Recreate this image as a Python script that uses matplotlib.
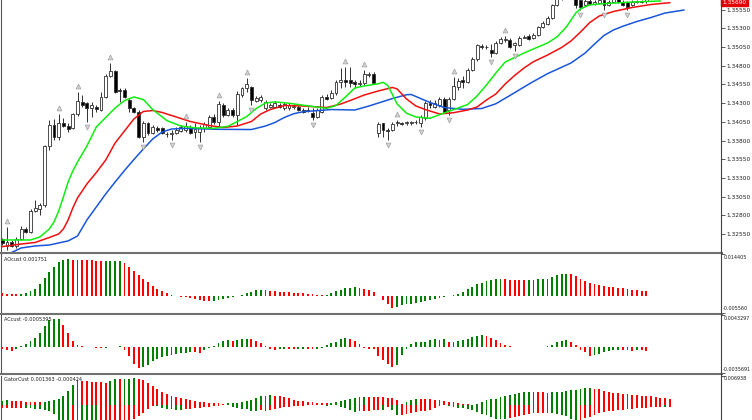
import matplotlib
matplotlib.use('Agg')
import matplotlib.pyplot as plt
import matplotlib.transforms as mtransforms
from matplotlib.lines import Line2D
import numpy as np

# --- candles ---
opens = [1.32479, 1.32392, 1.32445, 1.32392, 1.32485, 1.32619, 1.32579, 1.32860, 1.32886, 1.32940,
         1.33727, 1.34008, 1.33847, 1.34034, 1.33994, 1.33968, 1.34154, 1.34315, 1.34301, 1.34235,
         1.34248, 1.34208, 1.34381, 1.34662, 1.34729, 1.34475, 1.34475, 1.34341, 1.34235, 1.34181,
         1.33847, 1.34034, 1.33901, 1.33968, 1.33968, 1.33887, 1.33887, 1.33901, 1.33927, 1.33941,
         1.33968, 1.33914, 1.33914, 1.33968, 1.33981, 1.34114, 1.34047, 1.34275, 1.34141, 1.34208,
         1.34141, 1.34408, 1.34502, 1.34515, 1.34328, 1.34341, 1.34235, 1.34248, 1.34248, 1.34275,
         1.34235, 1.34235, 1.34248, 1.34248, 1.34208, 1.34208, 1.34168, 1.34114, 1.34181, 1.34381,
         1.34368, 1.34435, 1.34582, 1.34609, 1.34609, 1.34582, 1.34555, 1.34569, 1.34676, 1.34689,
         1.33901, 1.34034, 1.33941, 1.33941, 1.34034, 1.34034, 1.34034, 1.34034, 1.34047, 1.34034,
         1.34101, 1.34301, 1.34248, 1.34275, 1.34355, 1.34208, 1.34355, 1.34515, 1.34609, 1.34582,
         1.34742, 1.34889, 1.35062, 1.35049, 1.35009, 1.34969, 1.35102, 1.35143, 1.35143, 1.35076,
         1.35076, 1.35176, 1.35196, 1.35169, 1.35209, 1.35316, 1.35356, 1.35437, 1.35610, 1.35704,
         1.35784, 1.35837, 1.35730, 1.35677, 1.35610, 1.35664, 1.35624, 1.35637, 1.35677, 1.35610,
         1.35650, 1.35690, 1.35650, 1.35650, 1.35610, 1.35650, 1.35664, 1.35657]
highs = [1.32499, 1.32646, 1.32472, 1.32512, 1.32659, 1.32646, 1.32886, 1.33006, 1.32966, 1.33741,
         1.34074, 1.34088, 1.34154, 1.34101, 1.34034, 1.34168, 1.34448, 1.34408, 1.34315, 1.34315,
         1.34275, 1.34448, 1.34689, 1.34836, 1.34742, 1.34502, 1.34502, 1.34368, 1.34248, 1.34208,
         1.34061, 1.34047, 1.34008, 1.33994, 1.33981, 1.33914, 1.33941, 1.33981, 1.34008, 1.34047,
         1.34008, 1.34034, 1.34008, 1.34047, 1.34141, 1.34154, 1.34328, 1.34301, 1.34235, 1.34235,
         1.34462, 1.34515, 1.34635, 1.34528, 1.34395, 1.34408, 1.34341, 1.34301, 1.34328, 1.34301,
         1.34315, 1.34301, 1.34288, 1.34275, 1.34235, 1.34248, 1.34235, 1.34235, 1.34408, 1.34422,
         1.34475, 1.34609, 1.34769, 1.34782, 1.34782, 1.34609, 1.34609, 1.34742, 1.34715, 1.34715,
         1.34047, 1.34034, 1.33968, 1.34047, 1.34074, 1.34047, 1.34061, 1.34061, 1.34074, 1.34141,
         1.34328, 1.34341, 1.34341, 1.34381, 1.34381, 1.34381, 1.34649, 1.34635, 1.34662, 1.34769,
         1.34916, 1.35089, 1.35089, 1.35076, 1.35089, 1.35129, 1.35183, 1.35196, 1.35169, 1.35116,
         1.35196, 1.35209, 1.35223, 1.35236, 1.35330, 1.35396, 1.35463, 1.35624, 1.35744, 1.35811,
         1.35877, 1.35877, 1.35757, 1.35717, 1.35704, 1.35704, 1.35677, 1.35704, 1.35704, 1.35677,
         1.35717, 1.35717, 1.35677, 1.35664, 1.35677, 1.35677, 1.35677, 1.35700]
lows = [1.32405, 1.32338, 1.32379, 1.32365, 1.32472, 1.32565, 1.32565, 1.32846, 1.32806, 1.32913,
        1.33674, 1.33807, 1.33807, 1.33981, 1.33914, 1.33954, 1.34128, 1.34248, 1.34047, 1.34114,
        1.34181, 1.34195, 1.34368, 1.34649, 1.34435, 1.34315, 1.34368, 1.34181, 1.34168, 1.33834,
        1.33780, 1.33874, 1.33887, 1.33914, 1.33887, 1.33847, 1.33807, 1.33887, 1.33914, 1.33914,
        1.33887, 1.33834, 1.33780, 1.33914, 1.33968, 1.34021, 1.33994, 1.34114, 1.34128, 1.34114,
        1.34008, 1.34381, 1.34448, 1.34275, 1.34315, 1.34315, 1.34208, 1.34235, 1.34235, 1.34235,
        1.34208, 1.34208, 1.34221, 1.34195, 1.34168, 1.34181, 1.34074, 1.34101, 1.34168, 1.34341,
        1.34355, 1.34408, 1.34502, 1.34515, 1.34515, 1.34502, 1.34528, 1.34542, 1.34649, 1.34562,
        1.33847, 1.33847, 1.33807, 1.33927, 1.33994, 1.34008, 1.34008, 1.34008, 1.34021, 1.33981,
        1.34074, 1.34235, 1.34235, 1.34248, 1.34168, 1.34141, 1.34341, 1.34475, 1.34502, 1.34569,
        1.34729, 1.34862, 1.35029, 1.35022, 1.34916, 1.34956, 1.35089, 1.35116, 1.35036, 1.34996,
        1.35062, 1.35169, 1.35143, 1.35156, 1.35196, 1.35303, 1.35343, 1.35423, 1.35597, 1.35677,
        1.35757, 1.35704, 1.35570, 1.35543, 1.35597, 1.35610, 1.35610, 1.35624, 1.35543, 1.35597,
        1.35637, 1.35637, 1.35597, 1.35543, 1.35597, 1.35637, 1.35637, 1.35637]
closes = [1.32432, 1.32445, 1.32392, 1.32485, 1.32619, 1.32579, 1.32860, 1.32900, 1.32940, 1.33727,
          1.34008, 1.33847, 1.34034, 1.33994, 1.33954, 1.34154, 1.34328, 1.34275, 1.34235, 1.34275,
          1.34221, 1.34381, 1.34662, 1.34729, 1.34448, 1.34462, 1.34381, 1.34235, 1.34181, 1.33847,
          1.34034, 1.33901, 1.33981, 1.33941, 1.33901, 1.33894, 1.33901, 1.33941, 1.33981, 1.33994,
          1.33901, 1.33954, 1.33968, 1.34021, 1.34114, 1.34047, 1.34288, 1.34141, 1.34208, 1.34141,
          1.34422, 1.34502, 1.34555, 1.34341, 1.34368, 1.34381, 1.34315, 1.34275, 1.34301, 1.34248,
          1.34288, 1.34275, 1.34255, 1.34208, 1.34181, 1.34201, 1.34114, 1.34208, 1.34381, 1.34361,
          1.34435, 1.34582, 1.34609, 1.34582, 1.34569, 1.34555, 1.34575, 1.34689, 1.34689, 1.34569,
          1.34021, 1.33941, 1.33934, 1.34021, 1.34041, 1.34027, 1.34041, 1.34041, 1.34041, 1.34114,
          1.34301, 1.34275, 1.34301, 1.34355, 1.34181, 1.34355, 1.34529, 1.34595, 1.34582, 1.34742,
          1.34889, 1.35076, 1.35043, 1.35043, 1.34969, 1.35102, 1.35156, 1.35156, 1.35049, 1.35102,
          1.35169, 1.35189, 1.35156, 1.35209, 1.35316, 1.35370, 1.35437, 1.35610, 1.35704, 1.35784,
          1.35837, 1.35730, 1.35610, 1.35584, 1.35664, 1.35624, 1.35650, 1.35677, 1.35610, 1.35650,
          1.35690, 1.35650, 1.35610, 1.35584, 1.35650, 1.35664, 1.35650, 1.35690]

# --- alligator lines (bar index, price) ---
lips_idx = [0, 6, 8, 10, 11, 12, 13, 14, 15, 16, 18, 20, 22, 24, 26, 28, 30, 32, 35, 38,
            41, 45, 48, 50, 52, 54, 56, 58, 61, 65, 69, 71, 73, 75, 77, 80, 81, 82, 83, 84,
            86, 88, 91, 94, 97, 99, 101, 103, 105, 107, 109, 111, 113, 116, 118, 120, 121, 122, 123, 125,
            129, 134, 140]
lips_val = [1.32472, 1.32472, 1.32512, 1.32619, 1.32712, 1.32860, 1.33047, 1.33246, 1.33394, 1.33513,
            1.33727, 1.33981, 1.34108, 1.34234, 1.34334, 1.34382, 1.34348, 1.34214, 1.34067, 1.33994,
            1.33970, 1.33963, 1.33990, 1.34054, 1.34121, 1.34227, 1.34301, 1.34317, 1.34298, 1.34264,
            1.34230, 1.34268, 1.34382, 1.34502, 1.34529, 1.34558, 1.34578, 1.34536, 1.34415, 1.34288,
            1.34165, 1.34115, 1.34097, 1.34168, 1.34235, 1.34281, 1.34395, 1.34542, 1.34702, 1.34849,
            1.34909, 1.34969, 1.35023, 1.35103, 1.35183, 1.35317, 1.35410, 1.35503, 1.35557, 1.35613,
            1.35632, 1.35650, 1.35664]
teeth_idx = [0, 4, 7, 10, 12, 13, 14, 15, 16, 18, 20, 22, 24, 26, 28, 30, 32, 34, 37, 40,
             44, 47, 50, 53, 55, 57, 60, 64, 69, 72, 74, 77, 80, 83, 84, 86, 88, 90, 93, 96,
             99, 101, 103, 105, 107, 109, 111, 113, 116, 119, 121, 123, 125, 127, 130, 134, 138, 142]
teeth_val = [1.32383, 1.32418, 1.32439, 1.32505, 1.32552, 1.32619, 1.32739, 1.32899, 1.33033, 1.33220,
             1.33373, 1.33540, 1.33767, 1.33928, 1.34088, 1.34188, 1.34201, 1.34175, 1.34115, 1.34054,
             1.34001, 1.33974, 1.33994, 1.34054, 1.34155, 1.34214, 1.34268, 1.34261, 1.34241, 1.34288,
             1.34334, 1.34408, 1.34462, 1.34509, 1.34489, 1.34355, 1.34261, 1.34214, 1.34155, 1.34172,
             1.34208, 1.34248, 1.34341, 1.34422, 1.34556, 1.34669, 1.34769, 1.34853, 1.34942, 1.35043,
             1.35130, 1.35249, 1.35377, 1.35463, 1.35523, 1.35577, 1.35617, 1.35641]
jaw_idx = [0, 2, 4, 7, 10, 14, 16, 18, 20, 22, 24, 26, 28, 30, 32, 34, 36, 39, 46, 53,
           56, 58, 60, 62, 64, 70, 75, 78, 80, 83, 86, 87, 89, 91, 94, 98, 102, 105, 108, 111,
           113, 116, 121, 124, 126, 128, 130, 132, 135, 138, 141, 145]
jaw_val = [1.32231, 1.32305, 1.32365, 1.32392, 1.32405, 1.32459, 1.32525, 1.32739, 1.32913, 1.33087,
           1.33246, 1.33400, 1.33547, 1.33687, 1.33821, 1.33914, 1.33954, 1.33962, 1.33950, 1.33947,
           1.33994, 1.34041, 1.34108, 1.34158, 1.34185, 1.34214, 1.34208, 1.34261, 1.34301, 1.34361,
           1.34412, 1.34415, 1.34361, 1.34308, 1.34241, 1.34217, 1.34228, 1.34291, 1.34402, 1.34515,
           1.34589, 1.34693, 1.34836, 1.34969, 1.35089, 1.35203, 1.35276, 1.35326, 1.35390, 1.35443,
           1.35503, 1.35543]

fractal_up = [1, 12, 16, 23, 39, 46, 52, 73, 77, 84, 96, 107]
fractal_down = [18, 30, 36, 42, 53, 66, 82, 89, 95, 104, 109, 123, 128, 133]

price_ticks = [1.35550, 1.35300, 1.35050, 1.34800, 1.34550, 1.34300, 1.34050,
               1.33800, 1.33550, 1.33300, 1.33050, 1.32800, 1.32550]

# --- oscillators ---
ao = [0.00117, 0.00093, 0.00082, 0.00070, 0.00093, 0.00128, 0.00187, 0.00268, 0.00432, 0.00630,
      0.00840, 0.01015, 0.01167, 0.01249, 0.01272, 0.01266, 0.01260, 0.01255, 0.01249, 0.01237,
      0.01225, 0.01208, 0.01214, 0.01220, 0.01225, 0.01231, 0.01144, 0.01027, 0.00887, 0.00747,
      0.00607, 0.00478, 0.00362, 0.00257, 0.00175, 0.00105, 0.00047, 0.00012, -0.00023, -0.00035,
      -0.00058, -0.00082, -0.00117, -0.00152, -0.00175, -0.00163, -0.00140, -0.00105, -0.00058, -0.00023,
      0.00012, 0.00058, 0.00117, 0.00163, 0.00210, 0.00233, 0.00222, 0.00198, 0.00175, 0.00163,
      0.00152, 0.00140, 0.00128, 0.00117, 0.00105, 0.00093, 0.00070, 0.00047, 0.00035, 0.00058,
      0.00117, 0.00175, 0.00233, 0.00280, 0.00303, 0.00315, 0.00292, 0.00268, 0.00233, 0.00140,
      0.00023, -0.00140, -0.00257, -0.00397, -0.00350, -0.00315, -0.00280, -0.00257, -0.00233, -0.00198,
      -0.00163, -0.00117, -0.00082, -0.00047, -0.00023, 0.00023, 0.00058, 0.00093, 0.00140, 0.00245,
      0.00327, 0.00408, 0.00467, 0.00525, 0.00560, 0.00583, 0.00589, 0.00583, 0.00578, 0.00572,
      0.00568, 0.00565, 0.00569, 0.00574, 0.00580, 0.00586, 0.00592, 0.00665, 0.00724, 0.00759,
      0.00782, 0.00770, 0.00689, 0.00607, 0.00525, 0.00467, 0.00432, 0.00397, 0.00362, 0.00338,
      0.00315, 0.00292, 0.00274, 0.00257, 0.00233, 0.00210, 0.00193, 0.00175]
ac = [-0.00035, -0.00050, -0.00055, -0.00025, 0.00010, 0.00040, 0.00080, 0.00115, 0.00190, 0.00280,
      0.00360, 0.00379, 0.00385, 0.00300, 0.00185, 0.00083, 0.00023, 0.00005, -0.00003, -0.00008,
      -0.00012, -0.00015, -0.00010, -0.00005, 0.00002, 0.00004, -0.00037, -0.00129, -0.00231, -0.00286,
      -0.00282, -0.00245, -0.00199, -0.00162, -0.00134, -0.00120, -0.00106, -0.00097, -0.00088, -0.00079,
      -0.00069, -0.00074, -0.00078, -0.00040, -0.00010, 0.00015, 0.00055, 0.00083, 0.00092, 0.00085,
      0.00094, 0.00101, 0.00108, 0.00100, 0.00083, 0.00046, 0.00005, -0.00030, -0.00037, -0.00035,
      -0.00033, -0.00035, -0.00036, -0.00034, -0.00032, -0.00033, -0.00034, -0.00030, -0.00010, 0.00020,
      0.00045, 0.00070, 0.00105, 0.00120, 0.00110, 0.00080, 0.00035, -0.00010, -0.00030, -0.00035,
      -0.00129, -0.00176, -0.00231, -0.00277, -0.00254, -0.00115, -0.00032, 0.00032, 0.00065, 0.00069,
      0.00071, 0.00092, 0.00101, 0.00092, 0.00101, 0.00069, 0.00065, 0.00083, 0.00092, 0.00101,
      0.00129, 0.00148, 0.00157, 0.00152, 0.00125, 0.00092, 0.00046, 0.00023, 0.00005, 0.00003,
      0.00001, -0.00001, -0.00002, -0.00001, 0.00001, 0.00003, 0.00005, 0.00023, 0.00069, 0.00083,
      0.00092, 0.00069, 0.00023, -0.00046, -0.00069, -0.00129, -0.00115, -0.00092, -0.00069, -0.00060,
      -0.00050, -0.00042, -0.00046, -0.00050, -0.00055, -0.00046, -0.00050, -0.00054]
gator_up = [0.00100, 0.00110, 0.00100, 0.00092, 0.00085, 0.00080, 0.00075, 0.00070, 0.00068, 0.00080,
            0.00100, 0.00125, 0.00150, 0.00202, 0.00326, 0.00473, 0.00589, 0.00574, 0.00558, 0.00550,
            0.00535, 0.00535, 0.00527, 0.00566, 0.00605, 0.00605, 0.00612, 0.00620, 0.00628, 0.00605,
            0.00581, 0.00512, 0.00442, 0.00372, 0.00302, 0.00256, 0.00209, 0.00183, 0.00155, 0.00130,
            0.00109, 0.00096, 0.00082, 0.00068, 0.00054, 0.00047, 0.00039, 0.00028, 0.00037, 0.00045,
            0.00053, 0.00078, 0.00101, 0.00124, 0.00155, 0.00202, 0.00220, 0.00229, 0.00222, 0.00205,
            0.00186, 0.00155, 0.00122, 0.00105, 0.00088, 0.00078, 0.00068, 0.00057, 0.00047, 0.00037,
            0.00050, 0.00068, 0.00088, 0.00116, 0.00146, 0.00175, 0.00184, 0.00191, 0.00190, 0.00189,
            0.00186, 0.00181, 0.00175, 0.00171, 0.00127, 0.00031, 0.00067, 0.00124, 0.00147, 0.00144,
            0.00140, 0.00132, 0.00129, 0.00127, 0.00095, 0.00079, 0.00067, 0.00045, 0.00025, 0.00014,
            0.00006, 0.00026, 0.00078, 0.00107, 0.00130, 0.00152, 0.00186, 0.00222, 0.00243, 0.00267,
            0.00279, 0.00295, 0.00302, 0.00307, 0.00301, 0.00296, 0.00290, 0.00296, 0.00301, 0.00307,
            0.00324, 0.00341, 0.00360, 0.00377, 0.00398, 0.00403, 0.00383, 0.00369, 0.00326, 0.00307,
            0.00287, 0.00274, 0.00260, 0.00251, 0.00242, 0.00228, 0.00220, 0.00209, 0.00202, 0.00186,
            0.00169, 0.00153, 0.001363]
gator_down = [-0.00080, -0.00075, -0.00070, -0.00066, -0.00062, -0.00068, -0.00078, -0.00090, -0.00105, -0.00118,
              -0.00140, -0.00212, -0.00357, -0.00496, -0.00589, -0.00574, -0.00558, -0.00574, -0.00589, -0.00643,
              -0.00705, -0.00682, -0.00659, -0.00600, -0.00543, -0.00512, -0.00473, -0.00403, -0.00341, -0.00264,
              -0.00186, -0.00101, -0.00016, -0.00023, -0.00070, -0.00101, -0.00105, -0.00109, -0.00116, -0.00102,
              -0.00088, -0.00082, -0.00068, -0.00054, -0.00042, -0.00033, -0.00012, -0.00008, -0.00011, -0.00039,
              -0.00070, -0.00085, -0.00101, -0.00140, -0.00144, -0.00127, -0.00136, -0.00110, -0.00099, -0.00070,
              -0.00043, -0.00037, -0.00029, -0.00022, -0.00012, -0.00008, -0.00003, -0.00002, -0.00008, -0.00012,
              -0.00009, -0.00005, -0.00042, -0.00082, -0.00124, -0.00166, -0.00152, -0.00140, -0.00130, -0.00121,
              -0.00112, -0.00116, -0.00050, -0.00109, -0.00233, -0.00226, -0.00220, -0.00194, -0.00171, -0.00149,
              -0.00130, -0.00113, -0.00062, -0.00012, -0.00009, -0.00028, -0.00047, -0.00059, -0.00071, -0.00085,
              -0.00127, -0.00171, -0.00202, -0.00233, -0.00279, -0.00326, -0.00333, -0.00341, -0.00310, -0.00279,
              -0.00256, -0.00233, -0.00214, -0.00197, -0.00194, -0.00189, -0.00186, -0.00194, -0.00202, -0.00240,
              -0.00267, -0.00326, -0.00364, -0.00357, -0.00316, -0.00274, -0.00229, -0.00184, -0.00166, -0.00149,
              -0.00130, -0.00119, -0.00107, -0.00096, -0.00085, -0.00078, -0.00067, -0.00059, -0.00050, -0.00043,
              -0.00040, -0.00045, -0.000424]

GREEN = '#008000'
RED = '#ff0000'
W, H = 752, 420
fig = plt.figure(figsize=(W / 100, H / 100), dpi=100)


def px_axes(x0, y0, x1, y1):
    return fig.add_axes([x0 / W, 1 - y1 / H, (x1 - x0) / W, (y1 - y0) / H])


ax = px_axes(1.5, 0, 721, 253)
ax_ao = px_axes(1.5, 254.5, 721, 312.5)
ax_ac = px_axes(1.5, 315, 721, 373)
ax_g = px_axes(1.5, 375.5, 721, 420)

for a in (ax, ax_ao, ax_ac, ax_g):
    a.set_xlim(-0.17, 152.9)
    for s in ('top', 'bottom', 'right'):
        a.spines[s].set_visible(False)
    a.spines['left'].set_color('#555555')
    a.spines['left'].set_linewidth(0.8)
    a.set_xticks([])
    a.yaxis.tick_right()
    a.tick_params(axis='y', length=3, width=0.6, color='#404040', pad=1.2,
                  labelsize=4.2, labelcolor='#202020')

# main chart
ax.set_ylim(1.32298, 1.35677)
idx = np.arange(len(closes))
o = np.array(opens)
c = np.array(closes)
bull = c >= o
ax.vlines(idx, lows, highs, color='#303030', lw=0.7, zorder=2)
ax.bar(idx, np.abs(c - o), bottom=np.minimum(o, c), width=0.62,
       color=np.where(bull, 'white', 'black'), edgecolor='#303030', linewidth=0.6, zorder=3)

ax.plot(jaw_idx, jaw_val, color='#1a56db', lw=1.1, zorder=4)
ax.plot(teeth_idx, teeth_val, color='#f01010', lw=1.1, zorder=4)
ax.plot(lips_idx, lips_val, color='#10ee10', lw=1.1, zorder=4)

up_tr = mtransforms.offset_copy(ax.transData, fig=fig, x=0, y=6, units='dots')
dn_tr = mtransforms.offset_copy(ax.transData, fig=fig, x=0, y=-5, units='dots')
ax.plot(fractal_up, [highs[i] for i in fractal_up], ls='none', marker='^', ms=3.5,
        mfc='#d4d4d4', mec='#a0a0a0', mew=0.5, transform=up_tr, zorder=5)
ax.plot(fractal_down, [lows[i] for i in fractal_down], ls='none', marker='v', ms=3.5,
        mfc='#d4d4d4', mec='#a0a0a0', mew=0.5, transform=dn_tr, zorder=5)

ax.set_yticks(price_ticks)
ax.set_yticklabels(['%.5f' % p for p in price_ticks])

# current price label (kept just inside the top edge)
lbl_tr = mtransforms.offset_copy(
    mtransforms.blended_transform_factory(ax.transAxes, ax.transData), fig=fig, x=0, y=-3, units='dots')
ax.text(1.002, closes[-1], '%.5f' % closes[-1], transform=lbl_tr,
        fontsize=4.2, color='white', va='center', ha='left', clip_on=False,
        bbox=dict(boxstyle='square,pad=0.2', fc='#e00000', ec='#e00000'))


def bar_colors(vals, first):
    cols = [first]
    for k in range(1, len(vals)):
        cols.append(GREEN if vals[k] > vals[k - 1] else RED)
    return cols


# AO
ax_ao.set_ylim(-0.00556, 0.014405)
ax_ao.bar(np.arange(len(ao)), ao, width=0.4, color=bar_colors(ao, RED))
# AC
ax_ac.set_ylim(-0.0035691, 0.0043297)
ax_ac.bar(np.arange(len(ac)), ac, width=0.4, color=bar_colors(ac, RED))
# Gator
ax_g.set_ylim(-0.00353, 0.006938)
ax_g.bar(np.arange(len(gator_up)), gator_up, width=0.4, color=bar_colors(gator_up, GREEN))
mag = [-v for v in gator_down]
ax_g.bar(np.arange(len(gator_down)), gator_down, width=0.4, color=bar_colors(mag, RED))

sub_labels = [(ax_ao, 'AOcust 0.001751', '0.014405', '-0.005560'),
              (ax_ac, 'ACcust -0.0005395', '0.0043297', '-0.0035691'),
              (ax_g, 'GatorCust 0.001363 -0.000424', '0.006938', None)]
for a, name, top, bot in sub_labels:
    lo, hi = a.get_ylim()
    a.set_yticks([hi] if bot is None else [lo, hi])
    a.set_yticklabels([])
    a.text(0.003, 0.965, name, transform=a.transAxes, fontsize=3.6, va='top', ha='left', color='#202020')
    a.text(1.003, 0.985, top, transform=a.transAxes, fontsize=3.5, va='top', ha='left', color='#202020')
    if bot is not None:
        a.text(1.003, 0.02, bot, transform=a.transAxes, fontsize=3.5, va='bottom', ha='left', color='#202020')

# separators and price-scale line
for yy in (253.5, 313.8, 374.3):
    fig.add_artist(Line2D([0, 721.5 / W], [1 - yy / H] * 2, color='#707070', lw=1.5))
fig.add_artist(Line2D([721.3 / W] * 2, [0, 1], color='#404040', lw=0.8))

fig.savefig('out.png', dpi=100)
